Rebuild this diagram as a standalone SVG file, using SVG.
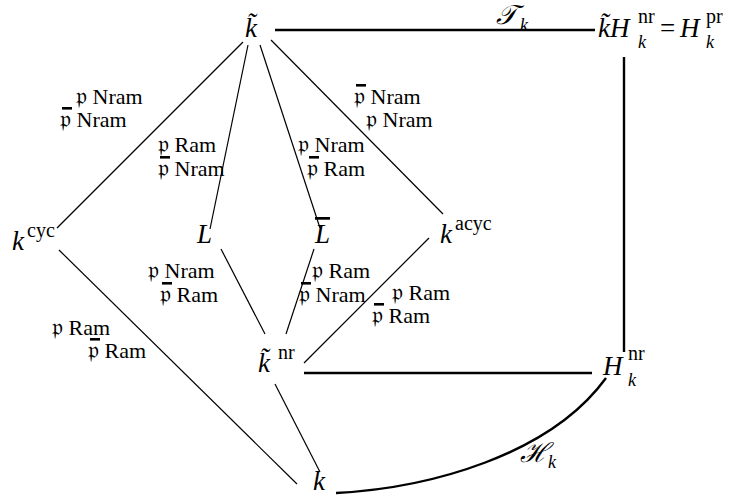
<svg xmlns="http://www.w3.org/2000/svg" width="749" height="499" viewBox="0 0 749 499">
<style>
text{font-family:"Liberation Serif","DejaVu Serif",serif;fill:#000}
.m{font-style:italic;font-size:27px}
.up{font-style:normal;font-size:27px}
.lbl{font-size:22px}
.fp{font-size:24px}
.sup{font-size:20px;font-style:normal}
.sub{font-size:18px;font-style:italic}
.thin{stroke:#000;stroke-width:1.2;fill:none}
.thick{stroke:#000;stroke-width:2.4;fill:none}
.bar{fill:#000}
</style>
<defs>
<rect id="pbar" class="bar" x="0" y="0" width="10" height="2.6"/>
</defs>
<g id="connectors">
<line class="thin" x1="243" y1="42" x2="57" y2="228"/>
<line class="thin" x1="248" y1="45" x2="210" y2="229"/>
<line class="thin" x1="260" y1="45" x2="320" y2="228"/>
<line class="thin" x1="271" y1="40" x2="443" y2="214"/>
<line class="thin" x1="59" y1="250" x2="297" y2="484"/>
<line class="thin" x1="221" y1="249" x2="265" y2="334"/>
<line class="thin" x1="314" y1="249" x2="286" y2="334"/>
<line class="thin" x1="429" y1="238" x2="304" y2="363"/>
<line class="thin" x1="275" y1="384" x2="320" y2="472"/>
<line class="thick" x1="275" y1="30" x2="595" y2="30"/>
<line class="thick" x1="304" y1="373" x2="592" y2="373"/>
<line class="thick" x1="624" y1="57" x2="624" y2="352"/>
<path class="thick" d="M336,493 C430,488 550,455 606,378"/>
</g>
<g id="edge-labels">
<text x="496" y="24" class="m">𝒯</text><text x="520" y="31" class="sub">k</text>
<text x="520" y="462" class="m">ℋ</text><text x="548" y="468" class="sub">k</text>
<text class="lbl" x="76" y="104"><tspan class="fp">𝔭</tspan> Nram</text>
<text class="lbl" x="60" y="127"><tspan class="fp">𝔭</tspan> Nram</text><use href="#pbar" x="62" y="107"/>
<text class="lbl" x="158" y="152"><tspan class="fp">𝔭</tspan> Ram</text>
<text class="lbl" x="158" y="176"><tspan class="fp">𝔭</tspan> Nram</text><use href="#pbar" x="160" y="156"/>
<text class="lbl" x="298" y="152"><tspan class="fp">𝔭</tspan> Nram</text>
<text class="lbl" x="307" y="176"><tspan class="fp">𝔭</tspan> Ram</text><use href="#pbar" x="309" y="156"/>
<text class="lbl" x="354" y="104"><tspan class="fp">𝔭</tspan> Nram</text><use href="#pbar" x="356" y="84"/>
<text class="lbl" x="366" y="127"><tspan class="fp">𝔭</tspan> Nram</text>
<text class="lbl" x="148" y="278"><tspan class="fp">𝔭</tspan> Nram</text>
<text class="lbl" x="160" y="302"><tspan class="fp">𝔭</tspan> Ram</text><use href="#pbar" x="162" y="282"/>
<text class="lbl" x="312" y="278"><tspan class="fp">𝔭</tspan> Ram</text>
<text class="lbl" x="299" y="302"><tspan class="fp">𝔭</tspan> Nram</text><use href="#pbar" x="301" y="282"/>
<text class="lbl" x="392" y="300"><tspan class="fp">𝔭</tspan> Ram</text>
<text class="lbl" x="372" y="323"><tspan class="fp">𝔭</tspan> Ram</text><use href="#pbar" x="374" y="303"/>
<text class="lbl" x="52" y="335"><tspan class="fp">𝔭</tspan> Ram</text>
<text class="lbl" x="88" y="358"><tspan class="fp">𝔭</tspan> Ram</text><use href="#pbar" x="90" y="338"/>
</g>
<g id="node-ktilde"><text class="m" x="245" y="37">k̃</text></g>
<g id="node-kHnr">
<text class="m" x="598" y="37">k̃H</text>
<text class="sup" x="638" y="23">nr</text>
<text class="sub" x="638" y="48">k</text>
<text class="up" x="660" y="37">=</text>
<text class="m" x="680" y="37">H</text>
<text class="sup" x="706" y="23">pr</text>
<text class="sub" x="706" y="48">k</text>
</g>
<g id="node-kcyc"><text class="m" x="12" y="250">k</text><text class="sup" x="27" y="237">cyc</text></g>
<g id="node-L"><text class="m" x="197" y="243">L</text></g>
<g id="node-Lbar"><text class="m" x="315" y="243" style="text-decoration:overline">L</text></g>
<g id="node-kacyc"><text class="m" x="440" y="243">k</text><text class="sup" x="455" y="230">acyc</text></g>
<g id="node-ktildenr"><text class="m" x="258" y="372">k̃</text><text class="sup" x="278" y="359">nr</text></g>
<g id="node-Hnr"><text class="m" x="603" y="375">H</text><text class="sup" x="628" y="360">nr</text><text class="sub" x="628" y="386">k</text></g>
<g id="node-k"><text class="m" x="313" y="490">k</text></g>
</svg>
